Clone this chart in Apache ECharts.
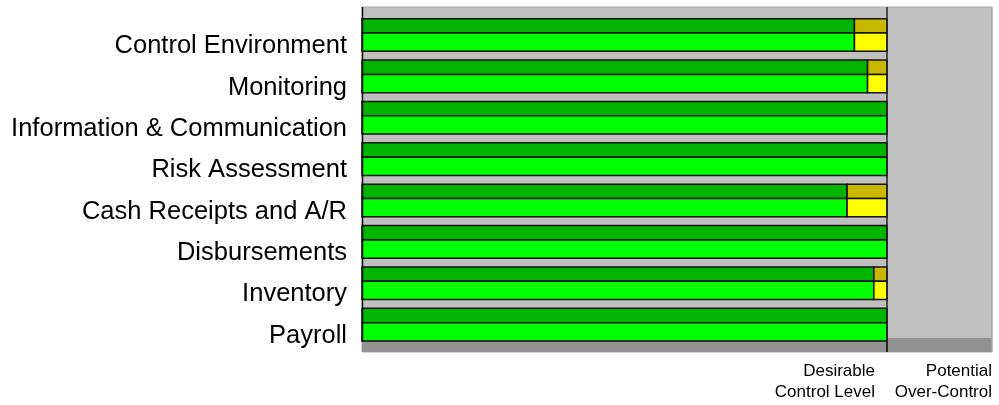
<!DOCTYPE html>
<html>
<head>
<meta charset="utf-8">
<script src="https://cdn.jsdelivr.net/npm/echarts@6/dist/echarts.min.js"></script>
<style>
  html, body { margin: 0; padding: 0; background: #fff; }
  #chart { width: 999px; height: 405px; }
</style>
</head>
<body>
<div id="chart"></div>
<script>
// control areas, top to bottom
var categories = [
  'Control Environment',
  'Monitoring',
  'Information & Communication',
  'Risk Assessment',
  'Cash Receipts and A/R',
  'Disbursements',
  'Inventory',
  'Payroll'
];
// % of desirable control level reached (green) and shortfall (yellow)
var metValues = [93.8, 96.3, 100, 100, 92.4, 100, 97.5, 100];
var gapValues = [6.2, 3.7, 0, 0, 7.6, 0, 2.5, 0];
var desirableLevel = 100;
var axisMax = 120;
var tickLabels = { 100: ['Desirable', 'Control Level'], 120: ['Potential', 'Over-Control'] };

var font = 'Liberation Sans, Arial, sans-serif';

var metData = [], gapData = [];
for (var i = 0; i < categories.length; i++) {
  metData.push([0, metValues[i], i]);
  gapData.push([metValues[i], metValues[i] + gapValues[i], i]);
}

// one "3d" bar segment: darker top face + bright front face
function barFace(topColor, frontColor) {
  return function (params, api) {
    var idx = api.value(2);
    var p0 = api.coord([api.value(0), idx]);
    var p1 = api.coord([api.value(1), idx]);
    var band = api.size([0, 1])[1];
    var top = p0[1] - band / 2;
    var w = p1[0] - p0[0];
    if (w <= 0) return null;
    return {
      type: 'group',
      children: [
        { type: 'rect', shape: { x: p0[0], y: top + band * 0.09, width: w, height: band * 0.346 },
          style: { fill: topColor, stroke: '#111', lineWidth: 1.5 } },
        { type: 'rect', shape: { x: p0[0], y: top + band * 0.436, width: w, height: band * 0.443 },
          style: { fill: frontColor, stroke: '#111', lineWidth: 1.5 } }
      ]
    };
  };
}

function renderBackdrop(params, api) {
  var cs = params.coordSys;
  var xd = api.coord([desirableLevel, 0])[0];
  var bottom = cs.y + cs.height + 6;
  return {
    type: 'group',
    children: [
      { type: 'rect', shape: { x: cs.x, y: cs.y - 8, width: cs.width, height: bottom - cs.y + 8 },
        style: { fill: '#c0c0c0', stroke: '#a9a9a9', lineWidth: 1 } },
      { type: 'rect', shape: { x: cs.x, y: cs.y + cs.height - 8, width: cs.width, height: 14 },
        style: { fill: '#929292' } },
      { type: 'line', shape: { x1: cs.x + cs.width, y1: cs.y - 8, x2: cs.x + cs.width, y2: bottom },
        style: { stroke: '#a9a9a9', lineWidth: 1 } },
      { type: 'line', shape: { x1: xd, y1: cs.y + cs.height - 8, x2: xd, y2: bottom },
        style: { stroke: '#222', lineWidth: 1.5 } }
    ]
  };
}

function renderFrame(params, api) {
  var cs = params.coordSys;
  var xd = api.coord([desirableLevel, 0])[0];
  return {
    type: 'group',
    children: [
      { type: 'line', shape: { x1: xd, y1: cs.y - 8, x2: xd, y2: cs.y + cs.height + 6 },
        style: { stroke: '#222', lineWidth: 1.5 } },
      { type: 'line', shape: { x1: cs.x + 0.5, y1: cs.y - 8, x2: cs.x + 0.5, y2: cs.y + cs.height - 4 },
        style: { stroke: '#111', lineWidth: 1.5 } }
    ]
  };
}

var chart = echarts.init(document.getElementById('chart'));
chart.setOption({
  animation: false,
  backgroundColor: '#fff',
  grid: { left: 362, right: 7, top: 15, bottom: 59, containLabel: false },
  xAxis: {
    type: 'value', min: 0, max: axisMax, interval: 20,
    splitLine: { show: false }, axisLine: { show: false }, axisTick: { show: false },
    axisLabel: {
      showMaxLabel: true, showMinLabel: false,
      margin: 15, align: 'right',
      fontFamily: font, fontSize: 17, color: '#000', lineHeight: 21,
      formatter: function (v) {
        var t = tickLabels[v];
        if (!t) return '';
        var s = v === desirableLevel ? 'd' : 'p';
        return '{' + s + '|' + t[0] + '}\n{' + s + '|' + t[1] + '}';
      },
      rich: {
        d: { fontFamily: font, fontSize: 17, color: '#000', lineHeight: 21, padding: [0, 12, 0, 0] },
        p: { fontFamily: font, fontSize: 17, color: '#000', lineHeight: 21 }
      }
    }
  },
  yAxis: {
    type: 'category', data: categories, inverse: true,
    axisLine: { show: false }, axisTick: { show: false }, splitLine: { show: false },
    axisLabel: { fontFamily: font, fontSize: 25.5, color: '#000', margin: 15,
      verticalAlign: 'top', lineHeight: 21 }
  },
  series: [
    { name: 'backdrop', type: 'custom', renderItem: renderBackdrop, data: [[0, 0]], z: 1, silent: true },
    { name: 'Met', type: 'custom', renderItem: barFace('#00b400', '#00ff00'), data: metData, z: 3,
      encode: { x: [0, 1], y: 2 } },
    { name: 'Gap', type: 'custom', renderItem: barFace('#c8b900', '#ffff00'), data: gapData, z: 3,
      encode: { x: [0, 1], y: 2 } },
    { name: 'frame', type: 'custom', renderItem: renderFrame, data: [[0, 0]], z: 5, silent: true }
  ]
});
</script>
</body>
</html>
